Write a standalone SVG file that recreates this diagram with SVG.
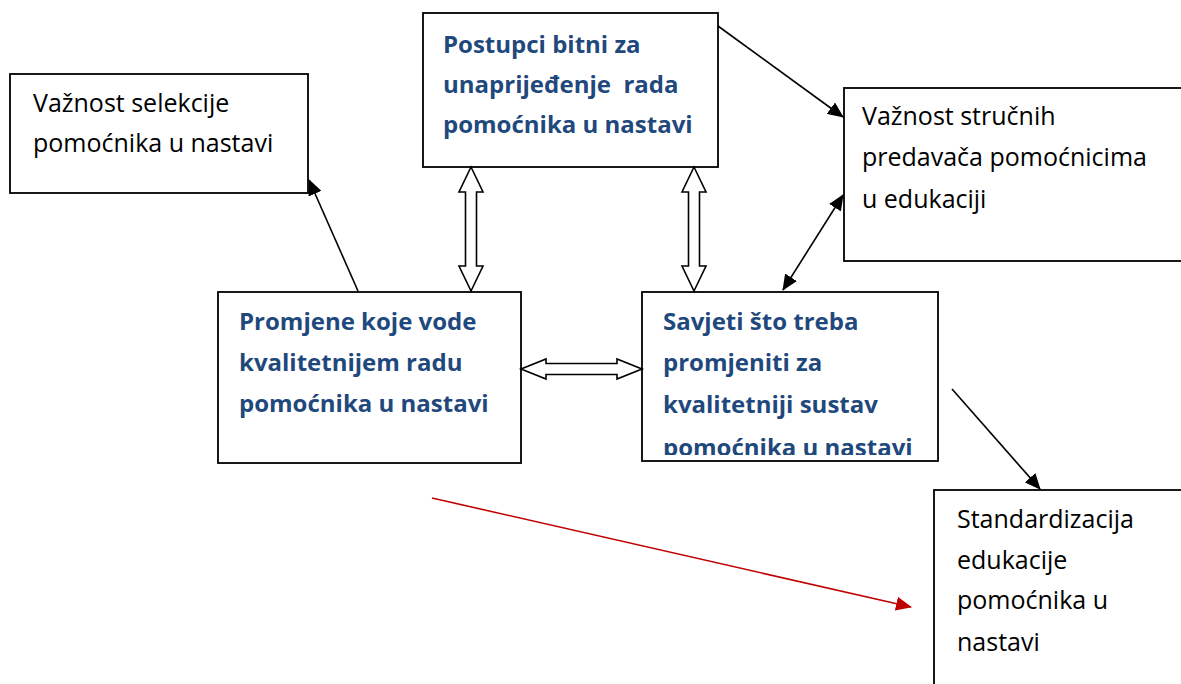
<svg xmlns="http://www.w3.org/2000/svg" width="1181" height="684" viewBox="0 0 1181 684">
<style>
.box{fill:#fff;stroke:#000;stroke-width:1.8}
.t{font-family:"Open Sans","Liberation Sans",sans-serif;font-size:25px;fill:#000}
.b{font-family:"Open Sans","Liberation Sans",sans-serif;font-size:24px;font-weight:bold;fill:#1F497D}
.ln{stroke:#000;stroke-width:1.6;fill:none}
.red{stroke:#C00000;stroke-width:1.6;fill:none}
.blk{fill:#fff;stroke:#000;stroke-width:1.6;stroke-linejoin:miter}
</style>
<defs>
<marker id="ah" markerUnits="userSpaceOnUse" markerWidth="16" markerHeight="14" refX="15" refY="7" orient="auto-start-reverse"><path d="M0,0 L16,7 L0,14 Z" fill="#000"/></marker>
<marker id="ahr" markerUnits="userSpaceOnUse" markerWidth="16" markerHeight="14" refX="15" refY="7" orient="auto"><path d="M0,0 L16,7 L0,14 Z" fill="#C00000"/></marker>
<clipPath id="clipS"><rect x="642" y="292" width="296" height="163"/></clipPath>
</defs>
<rect width="1181" height="684" fill="#fff"/>
<g id="n-selekcija">
<rect class="box" x="10" y="74" width="298" height="119"/>
<text class="t" x="33" y="112">Važnost selekcije</text>
<text class="t" x="33" y="152">pomoćnika u nastavi</text>
</g>
<g id="n-postupci">
<rect class="box" x="423" y="13" width="295" height="154"/>
<text class="b" x="443" y="53">Postupci bitni za</text>
<text class="b" x="443" y="93" xml:space="preserve">unaprijeđenje  rada</text>
<text class="b" x="443" y="133">pomoćnika u nastavi</text>
</g>
<g id="n-strucni">
<rect class="box" x="844" y="88" width="346" height="173"/>
<text class="t" x="862" y="125">Važnost stručnih</text>
<text class="t" x="862" y="166">predavača pomoćnicima</text>
<text class="t" x="862" y="208">u edukaciji</text>
</g>
<g id="n-promjene">
<rect class="box" x="218" y="292" width="303" height="171"/>
<text class="b" x="239" y="330">Promjene koje vode</text>
<text class="b" x="239" y="371">kvalitetnijem radu</text>
<text class="b" x="239" y="412">pomoćnika u nastavi</text>
</g>
<g id="n-savjeti">
<rect class="box" x="642" y="292" width="296" height="169"/>
<g clip-path="url(#clipS)">
<text class="b" x="663" y="330">Savjeti što treba</text>
<text class="b" x="663" y="371">promjeniti za</text>
<text class="b" x="663" y="413">kvalitetniji sustav</text>
<text class="b" x="663" y="456">pomoćnika u nastavi</text>
</g>
</g>
<g id="n-standard">
<rect class="box" x="934" y="490" width="256" height="210"/>
<text class="t" x="957" y="528">Standardizacija</text>
<text class="t" x="957" y="569">edukacije</text>
<text class="t" x="957" y="609">pomoćnika u</text>
<text class="t" x="957" y="651">nastavi</text>
</g>
<g id="connectors">
<polygon class="blk" points="471,167 483,192 476.5,192 476.5,266 483,266 471,291 459,266 465.5,266 465.5,192 459,192"/>
<polygon class="blk" points="694,167 706,192 699.5,192 699.5,266 706,266 694,291 682,266 688.5,266 688.5,192 682,192"/>
<polygon class="blk" points="521,369 546,359 546,363.5 617,363.5 617,359 642,369 617,379 617,374.5 546,374.5 546,379"/>
<line class="ln" x1="718" y1="26" x2="843" y2="117" marker-end="url(#ah)"/>
<line class="ln" x1="783" y1="290" x2="843" y2="195" marker-start="url(#ah)" marker-end="url(#ah)"/>
<line class="ln" x1="358" y1="291" x2="309" y2="180" marker-end="url(#ah)"/>
<line class="ln" x1="952" y1="389" x2="1040" y2="489" marker-end="url(#ah)"/>
<line class="red" x1="432" y1="498" x2="911" y2="607" marker-end="url(#ahr)"/>
</g>
</svg>
